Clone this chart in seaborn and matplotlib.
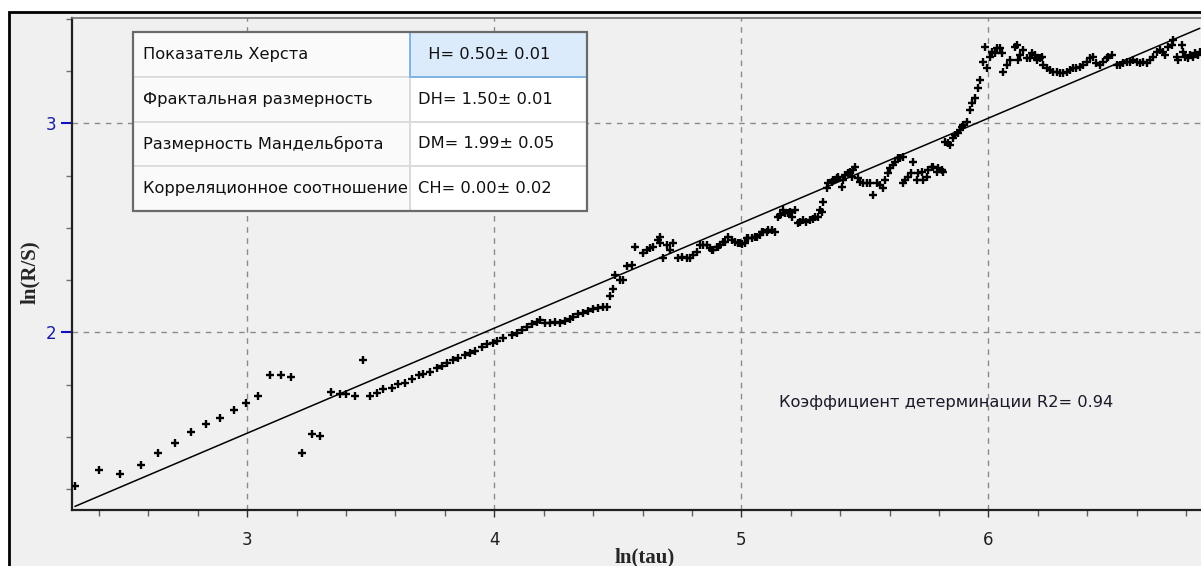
import matplotlib
matplotlib.use('Agg')
import matplotlib.pyplot as plt
from matplotlib.patches import Rectangle
from matplotlib.ticker import MultipleLocator
import numpy as np
import pandas as pd
import seaborn as sns

# R/S analysis points
ln_tau = [2.303, 2.402, 2.486, 2.569, 2.639, 2.709, 2.771, 2.834, 2.890, 2.946,
          2.995, 3.045, 3.093, 3.136, 3.177, 3.220, 3.262, 3.296, 3.338, 3.375,
          3.401, 3.435, 3.469,
          3.497, 3.524, 3.551, 3.585, 3.612, 3.639, 3.666, 3.696, 3.713, 3.740,
          3.767, 3.787, 3.807, 3.834, 3.854, 3.881, 3.902, 3.922, 3.949, 3.969,
          3.996, 4.010, 4.036, 4.070, 4.091, 4.111, 4.131, 4.151, 4.172, 4.185,
          4.205, 4.225, 4.246, 4.266, 4.286, 4.306, 4.320, 4.340, 4.360, 4.380,
          4.401, 4.421, 4.441, 4.455,
          4.468, 4.482, 4.488, 4.509, 4.522, 4.536, 4.556, 4.569,
          4.603, 4.630, 4.664, 4.684, 4.724, 4.745, 4.779, 4.805, 4.832, 4.860,
          4.880, 4.907, 4.927, 4.947, 4.974, 4.994, 5.021, 5.055, 5.082, 5.109,
          5.136, 5.149, 5.170, 5.190, 5.217, 5.230, 5.250, 5.278, 5.298, 5.318,
          5.331, 5.345, 5.365, 5.386, 5.406, 5.419, 5.439, 5.460, 5.480, 5.507,
          5.534, 5.548, 5.574, 5.594, 5.615, 5.635, 5.655, 5.655, 5.675, 5.696,
          5.709, 5.730, 5.750, 5.770, 5.790, 5.811,
          5.837, 5.858, 5.878, 5.891, 5.912, 5.925, 5.932, 5.945, 5.959, 5.966,
          5.979, 5.986, 5.993, 6.006, 6.026, 6.047, 6.060, 6.074, 6.087, 6.107,
          6.121, 6.141, 6.154, 6.175, 6.195, 6.215, 6.235, 6.262, 6.289, 6.316,
          6.343, 6.370, 6.397, 6.424, 6.451, 6.478, 6.498, 6.519, 6.546, 6.573,
          6.600, 6.626, 6.654, 6.681, 6.708, 6.728, 6.748, 6.762, 6.782, 6.795,
          6.815, 6.835, 6.855,
          # more marks inside the dense clusters
          4.617, 4.644, 4.671, 4.698, 4.711, 4.671,
          4.758, 4.792, 4.819, 4.846, 4.873, 4.886, 4.900, 4.913, 4.934, 4.961,
          4.987, 5.001, 5.015, 5.028, 5.042, 5.062, 5.075, 5.089, 5.102, 5.123,
          5.156, 5.176, 5.197, 5.203, 5.236, 5.263, 5.290, 5.311, 5.325,
          5.352, 5.372, 5.392, 5.412, 5.433, 5.453, 5.446, 5.473, 5.494, 5.520,
          5.561, 5.581, 5.601, 5.622, 5.642, 5.661, 5.688, 5.715, 5.736, 5.756,
          5.777, 5.797, 5.817, 5.824, 5.844, 5.864, 5.884, 5.898,
          6.013, 6.033, 6.053, 6.114, 6.128, 6.168, 6.188, 6.208, 6.222,
          6.249, 6.276, 6.303, 6.330, 6.356, 6.383, 6.410, 6.437, 6.464, 6.484,
          6.532, 6.559, 6.586, 6.613, 6.640, 6.667, 6.694, 6.714, 6.741,
          6.768, 6.788, 6.808, 6.828, 6.848]
ln_rs = [1.266, 1.340, 1.322, 1.365, 1.422, 1.472, 1.522, 1.563, 1.589, 1.628,
         1.660, 1.694, 1.794, 1.794, 1.786, 1.422, 1.513, 1.504, 1.713, 1.705,
         1.706, 1.694, 1.867,
         1.695, 1.711, 1.727, 1.735, 1.753, 1.759, 1.777, 1.796, 1.800, 1.811,
         1.828, 1.840, 1.852, 1.867, 1.879, 1.891, 1.902, 1.910, 1.931, 1.944,
         1.947, 1.960, 1.971, 1.987, 1.998, 2.011, 2.024, 2.040, 2.051, 2.059,
         2.043, 2.046, 2.051, 2.043, 2.054, 2.062, 2.075, 2.086, 2.094, 2.103,
         2.110, 2.115, 2.120, 2.120,
         2.174, 2.206, 2.274, 2.250, 2.250, 2.317, 2.322, 2.410,
         2.378, 2.402, 2.442, 2.354, 2.426, 2.354, 2.354, 2.370, 2.418, 2.418,
         2.394, 2.410, 2.434, 2.457, 2.434, 2.426, 2.450, 2.457, 2.481, 2.489,
         2.481, 2.553, 2.585, 2.569, 2.585, 2.522, 2.537, 2.537, 2.553, 2.585,
         2.625, 2.689, 2.721, 2.737, 2.697, 2.753, 2.768, 2.792, 2.721, 2.713,
         2.657, 2.713, 2.689, 2.761, 2.800, 2.833, 2.840, 2.713, 2.745, 2.816,
         2.729, 2.768, 2.745, 2.792, 2.768, 2.777,
         2.904, 2.928, 2.952, 2.984, 3.008, 3.064, 3.096, 3.120, 3.167, 3.207,
         3.295, 3.367, 3.263, 3.319, 3.335, 3.359, 3.247, 3.279, 3.303, 3.367,
         3.303, 3.351, 3.311, 3.335, 3.303, 3.319, 3.263, 3.247, 3.239, 3.247,
         3.263, 3.271, 3.295, 3.319, 3.279, 3.311, 3.327, 3.279, 3.287, 3.295,
         3.295, 3.295, 3.303, 3.343, 3.343, 3.367, 3.399, 3.319, 3.375, 3.319,
         3.327, 3.335, 3.343,
         2.394, 2.407, 2.426, 2.418, 2.394, 2.457,
         2.362, 2.354, 2.386, 2.418, 2.402, 2.394, 2.407, 2.418, 2.434, 2.442,
         2.429, 2.422, 2.429, 2.450, 2.450, 2.457, 2.466, 2.481, 2.481, 2.489,
         2.561, 2.569, 2.577, 2.553, 2.530, 2.530, 2.541, 2.550, 2.577,
         2.713, 2.729, 2.745, 2.729, 2.761, 2.777, 2.745, 2.737, 2.713, 2.713,
         2.705, 2.729, 2.784, 2.816, 2.833, 2.729, 2.761, 2.761, 2.729, 2.777,
         2.792, 2.784, 2.768, 2.912, 2.896, 2.944, 2.968, 2.992,
         3.343, 3.359, 3.335, 3.375, 3.327, 3.311, 3.327, 3.311, 3.279,
         3.255, 3.244, 3.239, 3.255, 3.266, 3.279, 3.311, 3.287, 3.295, 3.319,
         3.279, 3.295, 3.303, 3.287, 3.287, 3.319, 3.351, 3.327, 3.375,
         3.303, 3.343, 3.311, 3.319, 3.327]

# fitted line  ln(R/S) = H * ln(tau) + c
hurst_slope = 0.5025
fit_intercept = 0.010

param_names = ['Показатель Херста', 'Фрактальная размерность',
               'Размерность Мандельброта', 'Корреляционное соотношение']
param_values = ['  H= 0.50\u00b1 0.01', 'DH= 1.50\u00b1 0.01',
                'DM= 1.99\u00b1 0.05', 'CH= 0.00\u00b1 0.02']
r2_text = 'Коэффициент детерминации R2= 0.94'

x_ticks = [3, 4, 5, 6]
y_ticks = [2, 3]

sns.set_style('ticks')
plt.rcParams['font.family'] = ['DejaVu Sans']

W, H = 1201, 566
bg = '#f0f0f0'
fig = plt.figure(figsize=(W / 100, H / 100), dpi=100)
fig.patch.set_facecolor('white')
fig.add_artist(Rectangle((8.5 / W, -0.1), 1.2, (H - 11.5) / H + 0.1,
                         transform=fig.transFigure, facecolor=bg,
                         edgecolor='black', linewidth=2, zorder=0))

ax = fig.add_axes([72 / W, (H - 510) / H, (W - 72) / W, (510 - 18) / H])
ax.set_facecolor(bg)

df = pd.DataFrame({'ln_tau': ln_tau, 'ln_rs': ln_rs})
sns.scatterplot(data=df, x='ln_tau', y='ln_rs', marker='+', s=26,
                color='black', linewidth=1.7, ax=ax, zorder=3)

fit_x = np.array([min(ln_tau), max(ln_tau)])
fit = pd.DataFrame({'x': fit_x, 'y': hurst_slope * fit_x + fit_intercept})
sns.lineplot(data=fit, x='x', y='y', color='black', linewidth=1.1, ax=ax,
             zorder=2)

ax.set_xlim(2.291, 6.860)
ax.set_ylim(1.150, 3.504)
ax.set_xticks(x_ticks)
ax.set_yticks(y_ticks)
ax.xaxis.set_minor_locator(MultipleLocator(0.2))
ax.yaxis.set_minor_locator(MultipleLocator(0.25))
ax.grid(True, which='major', linestyle=(0, (4, 4)), color='#8a8a8a',
        linewidth=1)
ax.tick_params(axis='x', which='major', length=5, width=1, color='#303030',
               labelsize=12, labelcolor='#202020', pad=10)
ax.tick_params(axis='x', which='minor', length=4, width=1, color='#606060')
ax.tick_params(axis='y', which='major', length=8, width=1.5, color='#1010c0',
               labelsize=12, labelcolor='#1a1aa0', pad=3)
ax.tick_params(axis='y', which='minor', length=4, width=1, color='#707070')
ax.set_xlabel('')
ax.set_ylabel('')
for side in ['left', 'bottom']:
    ax.spines[side].set_color('#202020')
    ax.spines[side].set_linewidth(1.6)
ax.spines['top'].set_color('#707070')
ax.spines['top'].set_linewidth(1.2)
ax.spines['right'].set_visible(False)

# table of parameters (pixel layout converted to axes fractions)
ax_w, ax_h = W - 72, 510 - 18
def fx(px):
    return (px - 72) / ax_w
def fy(py):
    return (510 - py) / ax_h

tab_left, tab_mid, tab_right = 133, 410, 587
tab_top, row_h = 32, 44.75
for i, (name, val) in enumerate(zip(param_names, param_values)):
    top = tab_top + i * row_h
    ax.add_patch(Rectangle((fx(tab_left), fy(top + row_h)),
                           fx(tab_mid) - fx(tab_left), row_h / ax_h,
                           transform=ax.transAxes, facecolor='#fafafa',
                           edgecolor='#dadada', linewidth=1.2, zorder=5))
    hl = i == 0
    ax.add_patch(Rectangle((fx(tab_mid), fy(top + row_h)),
                           fx(tab_right) - fx(tab_mid), row_h / ax_h,
                           transform=ax.transAxes,
                           facecolor='#dcebfb' if hl else 'white',
                           edgecolor='#7fb3e6' if hl else '#dadada',
                           linewidth=1.4, zorder=6 if hl else 5))
    ax.text(fx(tab_left + 10), fy(top + row_h / 2), name,
            transform=ax.transAxes, ha='left', va='center', fontsize=11.7,
            color='#101010', zorder=7)
    ax.text(fx(tab_mid + 8), fy(top + row_h / 2), val,
            transform=ax.transAxes, ha='left', va='center', fontsize=11.7,
            color='#101010', zorder=7)
ax.add_patch(Rectangle((fx(tab_left), fy(tab_top + 4 * row_h)),
                       fx(tab_right) - fx(tab_left), 4 * row_h / ax_h,
                       transform=ax.transAxes, facecolor='none',
                       edgecolor='#6a6a6a', linewidth=1.6, zorder=8))

ax.text(fx(779), fy(403), r2_text, transform=ax.transAxes, ha='left',
        va='center', fontsize=11.7, color='#1a1a2a', zorder=7)

fig.text(30 / W, 1 - 272 / H, 'ln(R/S)', rotation=90, ha='center',
         va='center', fontsize=15, fontweight='bold',
         family='Liberation Serif')
fig.text(645 / W, 4 / H, 'ln(tau)', ha='center', va='baseline',
         fontsize=15, fontweight='bold', family='Liberation Serif')

fig.savefig('out.png', dpi=100)
